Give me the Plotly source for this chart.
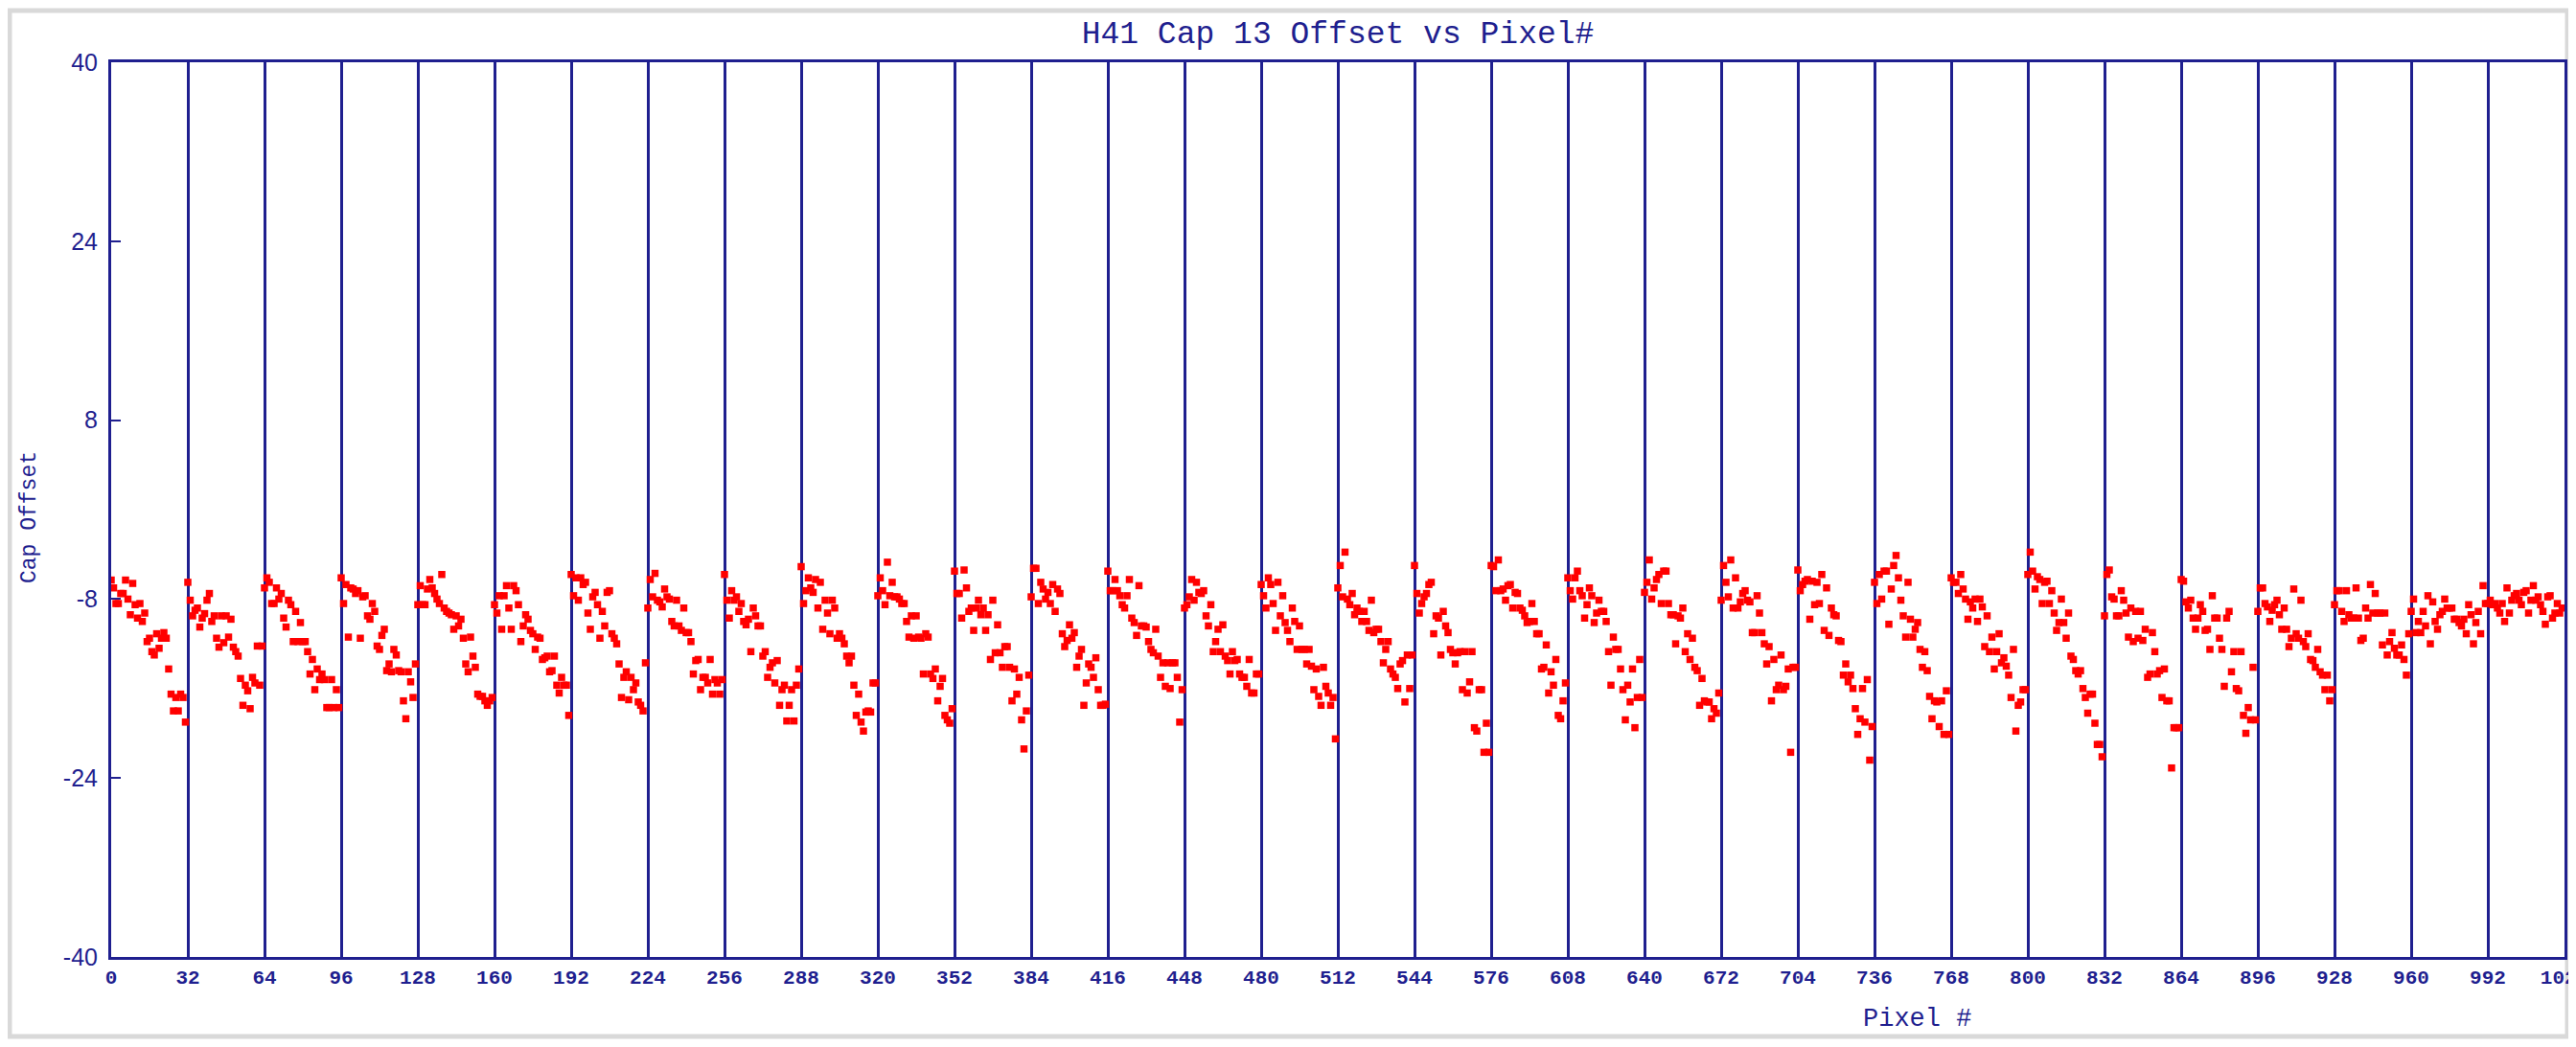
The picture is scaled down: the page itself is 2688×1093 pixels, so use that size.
import plotly.graph_objects as go

# ---------------- data (cap offset per pixel) ----------------
block_00 = [-6.3, -7.0, -8.4, -8.4, -7.5, -7.5, -6.3, -8.0, -9.4, -6.6, -8.5, -9.7, -8.4, -10.0, -9.25, -11.8,
            -11.5, -12.7, -13.0, -11.1, -12.4, -11.5, -11.0, -11.5, -14.25, -16.5, -18.0, -16.8, -18.0, -16.5, -16.8, -19.0]
block_01 = [-6.5, -8.1, -9.5, -9.0, -8.8, -10.5, -9.7, -9.3, -8.1, -7.5, -10.0, -9.5, -11.5, -12.3, -9.5, -11.9,
            -9.5, -11.4, -9.8, -12.3, -12.7, -13.1, -15.1, -17.5, -15.7, -16.2, -17.8, -15.0, -15.5, -12.2, -15.7, -12.2]
block_02 = [-7.0, -6.1, -6.5, -8.4, -8.4, -7.0, -8.0, -7.5, -9.7, -10.5, -8.1, -8.5, -11.8, -9.1, -11.8, -10.1,
            -11.8, -11.8, -12.7, -14.7, -13.4, -16.1, -14.25, -15.2, -14.7, -15.2, -17.7, -17.7, -15.2, -17.7, -16.1, -17.7]
block_03 = [-6.1, -8.4, -6.7, -11.4, -7.0, -7.1, -7.5, -7.25, -11.5, -7.8, -7.7, -9.5, -9.8, -8.4, -9.1, -12.2,
            -12.5, -11.25, -10.7, -14.4, -13.8, -14.5, -12.5, -13.0, -14.4, -14.5, -17.1, -18.7, -14.5, -15.4, -16.8, -13.8]
block_04 = [-8.5, -6.8, -8.5, -8.5, -7.1, -6.25, -7.0, -7.5, -8.0, -8.4, -5.8, -8.8, -9.1, -9.25, -9.4, -10.7,
            -9.5, -10.4, -9.8, -11.5, -13.8, -14.5, -11.4, -13.1, -14.1, -16.5, -16.7, -16.7, -17.1, -17.5, -17.1, -16.8]
block_05 = [-8.5, -9.25, -7.7, -10.7, -7.7, -6.8, -8.8, -10.7, -6.8, -7.25, -8.5, -11.8, -10.4, -9.4, -9.8, -10.8,
            -11.1, -12.5, -11.4, -11.5, -13.4, -13.25, -13.1, -14.5, -14.4, -13.1, -15.7, -16.4, -15.0, -15.7, -15.7, -18.4]
block_06 = [-5.8, -7.7, -6.1, -8.1, -6.1, -6.7, -6.5, -9.25, -10.7, -7.8, -7.4, -8.5, -11.5, -9.1, -10.4, -7.4,
            -7.25, -11.1, -11.5, -12.0, -13.8, -16.8, -15.0, -14.5, -17.0, -15.0, -16.1, -15.5, -17.2, -17.5, -18.0, -13.7]
block_07 = [-8.8, -6.25, -7.8, -5.7, -8.1, -8.25, -8.7, -7.1, -7.8, -8.0, -10.0, -10.4, -8.1, -10.4, -10.8, -8.8,
            -11.0, -11.0, -11.8, -14.7, -13.5, -13.4, -16.1, -15.0, -15.0, -15.5, -13.4, -16.5, -15.2, -15.5, -16.5, -15.2]
block_08 = [-5.8, -8.1, -9.7, -7.25, -8.1, -7.8, -9.1, -8.4, -10.0, -10.3, -9.8, -12.7, -8.8, -9.5, -10.4, -10.4,
            -13.1, -12.7, -15.0, -14.1, -13.7, -15.5, -13.5, -17.5, -16.1, -15.7, -18.9, -17.5, -16.1, -18.9, -15.7, -14.25]
block_09 = [-5.1, -8.4, -7.25, -6.1, -7.0, -7.4, -6.25, -8.8, -6.5, -10.7, -8.1, -9.25, -11.1, -8.1, -8.8, -11.5,
            -11.1, -11.5, -12.0, -13.1, -13.7, -13.1, -15.7, -18.4, -16.5, -19.0, -19.8, -18.1, -18.0, -18.1, -15.5, -15.5]
block_10 = [-7.7, -6.1, -7.25, -8.5, -4.7, -7.7, -6.5, -7.8, -7.8, -8.0, -8.4, -8.4, -10.0, -11.4, -9.5, -11.5,
            -9.5, -11.4, -11.5, -14.7, -11.1, -11.4, -14.7, -15.1, -14.25, -17.1, -15.8, -15.1, -18.4, -18.8, -19.1, -17.8]
block_11 = [-5.5, -7.5, -7.5, -9.7, -5.4, -7.0, -9.1, -8.8, -10.8, -8.8, -8.1, -9.4, -8.8, -10.8, -9.4, -13.4,
            -8.1, -12.8, -10.3, -12.8, -14.1, -12.25, -12.25, -14.1, -17.1, -14.25, -16.5, -15.0, -18.8, -21.4, -18.0, -14.8]
block_12 = [-7.8, -5.25, -5.25, -8.4, -6.5, -7.1, -8.0, -7.4, -8.4, -6.7, -9.1, -7.1, -7.5, -11.1, -12.25, -11.7,
            -10.3, -11.5, -11.0, -14.1, -13.1, -12.5, -17.5, -15.5, -13.8, -14.1, -15.0, -13.25, -16.1, -17.5, -17.5, -17.4]
block_13 = [-5.5, -7.25, -7.25, -6.25, -7.25, -7.7, -8.5, -8.8, -7.7, -6.25, -9.7, -10.1, -11.25, -6.8, -10.4, -10.4,
            -10.5, -11.8, -12.5, -12.8, -10.7, -13.1, -15.0, -13.7, -15.8, -13.7, -16.0, -13.7, -13.7, -15.0, -19.0, -16.1]
block_14 = [-8.8, -8.5, -7.8, -6.25, -8.1, -6.5, -7.4, -7.5, -7.25, -9.5, -10.4, -8.5, -12.7, -11.8, -10.7, -12.7,
            -10.3, -13.1, -13.5, -14.7, -12.7, -13.5, -13.4, -14.7, -15.0, -15.0, -15.8, -13.4, -16.4, -16.4, -14.7, -14.7]
block_15 = [-6.7, -7.7, -8.8, -6.1, -6.7, -8.4, -10.8, -6.5, -9.5, -7.7, -10.1, -10.8, -11.8, -8.8, -10.0, -12.5,
            -10.4, -12.5, -12.5, -13.8, -12.5, -14.0, -16.1, -14.25, -16.7, -17.5, -14.1, -15.8, -16.4, -17.5, -16.8, -20.5]
block_16 = [-7.0, -5.0, -7.8, -3.8, -8.0, -8.5, -7.5, -9.4, -8.8, -9.1, -10.0, -9.1, -10.0, -10.8, -8.1, -11.0,
            -10.7, -10.7, -11.8, -13.7, -12.5, -11.8, -14.25, -14.7, -15.0, -16.0, -13.8, -13.5, -17.2, -13.0, -16.0, -13.0]
block_17 = [-5.0, -7.5, -9.25, -8.4, -7.8, -7.5, -6.7, -6.5, -11.1, -9.5, -9.7, -13.0, -9.1, -10.4, -11.0, -12.5,
            -12.8, -13.8, -12.8, -12.7, -16.1, -12.7, -16.4, -15.4, -12.7, -19.5, -19.8, -16.1, -16.1, -21.7, -19.1, -21.7]
block_18 = [-5.0, -5.1, -7.25, -4.5, -7.25, -7.1, -8.1, -6.8, -6.7, -8.8, -7.4, -7.5, -8.8, -9.0, -9.5, -10.1,
            -10.0, -8.4, -10.0, -11.1, -11.1, -14.25, -14.1, -12.1, -16.4, -14.5, -15.7, -13.4, -18.4, -18.7, -17.1, -15.5]
block_19 = [-6.1, -7.25, -8.0, -6.1, -5.5, -7.25, -7.7, -9.7, -8.5, -7.0, -7.7, -10.1, -9.25, -8.1, -9.1, -9.1,
            -10.0, -12.7, -15.7, -11.4, -12.5, -12.5, -14.25, -16.1, -18.8, -15.7, -17.2, -14.25, -19.5, -16.8, -13.4, -16.8]
block_20 = [-7.4, -6.5, -4.5, -8.0, -7.0, -6.25, -5.8, -8.4, -5.5, -5.5, -8.4, -9.4, -9.4, -12.0, -9.5, -9.7,
            -8.8, -12.7, -11.1, -13.4, -11.5, -14.1, -14.4, -17.5, -15.1, -17.1, -17.2, -17.2, -18.7, -17.8, -18.2, -16.4]
block_21 = [-8.1, -5.0, -6.5, -7.8, -4.5, -8.8, -6.1, -8.8, -8.25, -7.5, -7.25, -8.1, -8.25, -11.0, -11.0, -7.7,
            -9.25, -11.0, -12.0, -13.8, -12.25, -17.1, -13.4, -16.1, -15.7, -13.0, -16.1, -15.8, -14.25, -21.7, -14.1, -14.1]
block_22 = [-5.4, -7.25, -6.7, -6.4, -6.25, -9.8, -6.4, -8.5, -6.5, -8.4, -5.8, -10.8, -7.0, -11.25, -8.8, -9.4,
            -9.5, -11.7, -11.8, -14.8, -13.8, -15.4, -14.8, -16.0, -17.8, -20.1, -18.7, -16.0, -19.0, -15.2, -22.4, -19.4]
block_23 = [-6.5, -8.4, -5.8, -8.0, -5.5, -5.5, -10.25, -7.1, -5.0, -4.1, -6.1, -8.1, -9.5, -11.4, -6.5, -9.8,
            -11.4, -10.7, -10.1, -12.5, -14.1, -12.7, -14.4, -16.7, -18.7, -17.1, -17.2, -19.4, -17.1, -20.1, -16.2, -20.1]
block_24 = [-6.1, -6.5, -6.5, -7.5, -5.8, -7.1, -8.0, -9.8, -8.25, -8.8, -8.0, -10.0, -8.0, -8.7, -12.25, -9.5,
            -12.7, -11.4, -14.25, -12.7, -11.1, -13.7, -13.25, -14.0, -14.8, -16.8, -12.5, -19.8, -17.5, -17.2, -16.1, -16.1]
block_25 = [-5.8, -3.8, -5.5, -7.1, -6.0, -6.25, -8.4, -6.5, -6.4, -8.4, -7.25, -9.25, -10.8, -10.1, -8.0, -10.1,
            -11.5, -9.25, -13.1, -13.4, -14.4, -14.7, -14.4, -16.0, -16.8, -18.2, -16.5, -16.5, -19.1, -21.0, -21.0, -22.1]
block_26 = [-9.5, -5.8, -5.4, -7.8, -8.0, -9.5, -9.5, -7.25, -8.1, -9.25, -11.4, -8.8, -11.8, -9.1, -11.5, -9.1,
            -11.7, -10.7, -15.0, -14.7, -11.0, -12.7, -14.7, -14.4, -16.8, -14.25, -17.1, -17.1, -23.1, -19.5, -19.5, -19.5]
block_27 = [-6.25, -6.4, -8.25, -8.8, -8.1, -9.7, -10.7, -9.7, -8.5, -9.1, -10.8, -10.7, -12.5, -7.7, -9.7, -9.7,
            -11.5, -12.5, -15.8, -9.7, -9.1, -14.5, -12.7, -16.0, -16.2, -12.7, -18.4, -20.0, -17.7, -18.8, -14.1, -18.8]
block_28 = [-9.1, -7.0, -7.0, -8.4, -8.7, -10.0, -9.0, -8.5, -8.1, -9.4, -10.7, -8.8, -10.7, -12.25, -11.5, -7.1,
            -11.1, -11.5, -8.1, -11.8, -12.25, -11.1, -13.4, -13.5, -14.1, -12.5, -14.5, -14.8, -16.1, -14.8, -17.1, -16.1]
block_29 = [-8.5, -7.25, -7.25, -9.1, -10.0, -7.25, -9.4, -9.7, -9.7, -7.0, -9.7, -11.7, -11.5, -8.8, -9.7, -6.7,
            -9.25, -7.5, -9.25, -9.25, -12.1, -9.25, -13.0, -11.8, -11.0, -12.4, -13.0, -13.0, -12.1, -13.4, -14.8, -11.1]
block_30 = [-9.1, -8.0, -11.0, -10.0, -11.0, -9.1, -10.4, -7.7, -12.0, -8.25, -10.0, -10.7, -9.4, -9.1, -8.0, -8.8,
            -8.8, -8.8, -9.8, -9.8, -10.1, -10.4, -9.8, -11.1, -8.5, -9.4, -12.0, -10.1, -9.1, -11.1, -6.8, -8.4]
block_31 = [-8.4, -8.1, -8.5, -8.4, -8.8, -9.25, -8.4, -10.0, -7.0, -9.25, -8.1, -7.7, -7.5, -8.1, -8.5, -7.4,
            -7.25, -9.25, -8.1, -6.8, -8.1, -7.8, -8.5, -9.1, -10.25, -7.8, -7.7, -9.7, -9.25, -8.4, -9.25, -8.8]

blocks = [block_00, block_01, block_02, block_03, block_04, block_05, block_06, block_07,
          block_08, block_09, block_10, block_11, block_12, block_13, block_14, block_15,
          block_16, block_17, block_18, block_19, block_20, block_21, block_22, block_23,
          block_24, block_25, block_26, block_27, block_28, block_29, block_30, block_31]

cap_offset = [v for b in blocks for v in b]
pixel = list(range(len(cap_offset)))

x_tick_vals = list(range(0, 1025, 32))
x_tick_text = [str(v) for v in x_tick_vals]
y_tick_vals = [-40, -24, -8, 8, 24, 40]
y_tick_text = ["-40", "-24", "-8", "8", "24", "40"]

TITLE = "H41 Cap 13 Offset vs Pixel#"
X_TITLE = "Pixel #"
Y_TITLE = "Cap Offset"

# ---------------- styling ----------------
NAVY = "#1f1f8f"
OFF = 8                      # page body margin of the html page
W, H = 2688 - 2 * OFF, 1093 - 2 * OFF
# plot area in page pixels: x 116..2676, y 65..999
ML, MT = 116 - OFF, 65 - OFF
MR = W - (2676 - OFF)
MB = H - (999 - OFF)
PW, PH = W - ML - MR, H - MT - MB


def px_x(x):
    """page x pixel -> paper coordinate"""
    return (x - OFF - ML) / PW


def px_y(y):
    """page y pixel -> paper coordinate"""
    return (H - MB - (y - OFF)) / PH


fig = go.Figure()
fig.add_trace(go.Scatter(
    x=pixel, y=cap_offset, mode="markers",
    marker=dict(symbol="square", size=7.5, color="#ff0000", line=dict(width=0)),
    hoverinfo="x+y", showlegend=False,
))

fig.update_layout(
    width=W, height=H,
    margin=dict(l=ML, r=MR, t=MT, b=MB, pad=0, autoexpand=False),
    paper_bgcolor="white", plot_bgcolor="white",
    title=dict(text=TITLE, x=0.5, xref="paper", xanchor="center",
               y=1 - (33 - OFF) / H, yref="container", yanchor="middle",
               font=dict(family="Liberation Mono", size=33, color=NAVY)),
    xaxis=dict(range=[0, 1024], tickmode="array", tickvals=x_tick_vals, ticktext=x_tick_text,
               automargin=False, ticklabeloverflow="allow",
               showgrid=True, gridcolor=NAVY, gridwidth=2.5,
               showline=True, linecolor=NAVY, linewidth=3, mirror=True,
               ticks="", zeroline=False,
               tickfont=dict(family="Liberation Mono", size=21, color=NAVY, weight="bold")),
    yaxis=dict(range=[-40, 40], tickmode="array", tickvals=y_tick_vals, ticktext=y_tick_text,
               automargin=False,
               showgrid=False, showline=True, linecolor=NAVY, linewidth=3, mirror=True,
               ticks="inside", ticklen=10, tickwidth=2, tickcolor=NAVY, zeroline=False,
               ticklabelstandoff=6,
               tickfont=dict(family="Liberation Sans", size=25, color=NAVY)),
    shapes=[dict(type="rect", xref="paper", yref="paper", layer="below",
                 x0=px_x(10), x1=px_x(2679), y0=px_y(1082), y1=px_y(11),
                 line=dict(color="#d9d9d9", width=5), fillcolor="rgba(0,0,0,0)")],
    annotations=[
        dict(text=X_TITLE, xref="paper", yref="paper", x=px_x(2000), y=px_y(1064),
             xanchor="center", yanchor="middle", showarrow=False,
             font=dict(family="Liberation Mono", size=27, color=NAVY)),
        dict(text=Y_TITLE, xref="paper", yref="paper", x=px_x(31), y=px_y(540),
             xanchor="center", yanchor="middle", showarrow=False, textangle=-90,
             font=dict(family="Liberation Mono", size=23, color=NAVY)),
    ],
)

fig.write_html("out.html")
